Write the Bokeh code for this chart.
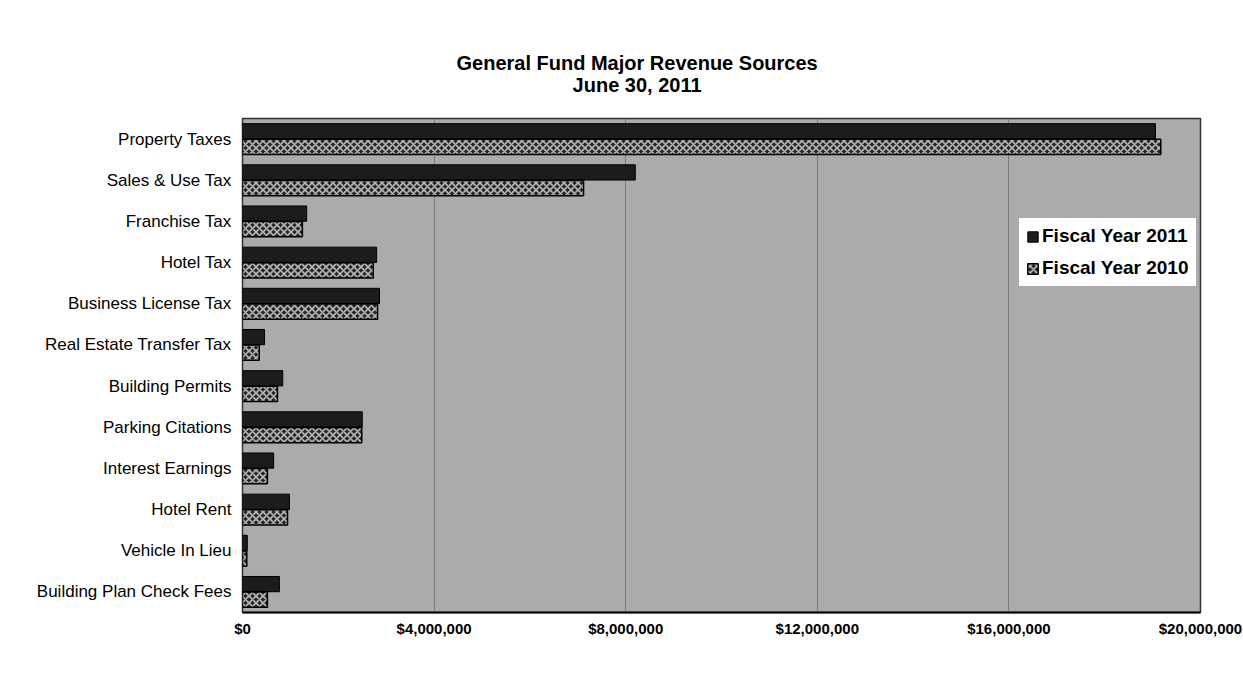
from bokeh.plotting import figure
from bokeh.layouts import column
from bokeh.models import (ColumnDataSource, FactorRange, Range1d, NumeralTickFormatter,
                          FixedTicker, Legend, LegendItem, Label)
from bokeh.transform import dodge
from bokeh.embed import file_html
from bokeh.resources import INLINE

categories = ["Property Taxes", "Sales & Use Tax", "Franchise Tax", "Hotel Tax",
              "Business License Tax", "Real Estate Transfer Tax", "Building Permits",
              "Parking Citations", "Interest Earnings", "Hotel Rent", "Vehicle In Lieu",
              "Building Plan Check Fees"]
fy2011 = [19060000, 8200000, 1340000, 2800000, 2860000, 460000, 840000,
          2500000, 650000, 980000, 100000, 770000]
fy2010 = [19170000, 7120000, 1250000, 2730000, 2820000, 350000, 730000,
          2490000, 520000, 940000, 90000, 520000]
x_ticks = [0, 4000000, 8000000, 12000000, 16000000, 20000000]
title_lines = ["General Fund Major Revenue Sources", "June 30, 2011"]

src = ColumnDataSource(dict(cat=categories, fy2011=fy2011, fy2010=fy2010))

# --- title strip ---
TW, TH = 1243, 116
tp = figure(width=TW, height=TH, x_range=Range1d(0, TW), y_range=Range1d(0, TH),
            output_backend="svg", toolbar_location=None, min_border=0,
            x_axis_location=None, y_axis_location=None)
tp.grid.visible = False
tp.outline_line_color = None
tp.background_fill_color = "white"
tp.border_fill_color = "white"
for txt, yy in zip(title_lines, [TH - 62, TH - 84]):
    tp.add_layout(Label(x=512, y=yy, text=txt, text_align="center",
                        text_baseline="middle", text_font="Liberation Sans",
                        text_font_size="20px", text_font_style="bold",
                        text_color="black"))

# --- main chart ---
p = figure(y_range=FactorRange(*reversed(categories)), x_range=Range1d(0, 20000000),
           width=1243, height=680 - TH, output_backend="svg", toolbar_location=None,
           min_border_left=242, min_border_right=43, min_border_top=2,
           min_border_bottom=68)
p.title = None
p.background_fill_color = "#ababab"
p.border_fill_color = "white"
p.outline_line_color = "#333333"
p.outline_line_width = 1.5

r1 = p.hbar(y=dodge("cat", 0.19, range=p.y_range), right="fy2011", left=0, height=0.37,
            source=src, fill_color="#1c1c1c", line_color="black", line_width=1)
r2 = p.hbar(y=dodge("cat", -0.19, range=p.y_range), right="fy2010", left=0, height=0.37,
            source=src, fill_color="#262626", line_color="black", line_width=1.5,
            hatch_pattern="x", hatch_color="#b5b5b5", hatch_scale=7, hatch_weight=1.6)

p.xaxis.ticker = FixedTicker(ticks=x_ticks)
p.xaxis.formatter = NumeralTickFormatter(format="$0,0")
p.xaxis.major_label_text_font = "Liberation Sans"
p.xaxis.major_label_text_font_style = "bold"
p.xaxis.major_label_text_font_size = "15px"
p.xaxis.major_label_text_color = "black"
p.xaxis.major_tick_line_color = None
p.xaxis.minor_tick_line_color = None
p.xaxis.axis_line_color = "black"
p.xaxis.axis_line_width = 2
p.xaxis.major_label_standoff = 1

p.yaxis.major_label_text_font = "Liberation Sans"
p.yaxis.major_label_text_font_size = "17px"
p.yaxis.major_label_text_color = "black"
p.yaxis.major_tick_line_color = None
p.yaxis.minor_tick_line_color = None
p.yaxis.axis_line_color = None
p.yaxis.major_label_standoff = 5

p.ygrid.grid_line_color = None
p.xgrid.grid_line_color = "#7a7a7a"
p.xgrid.grid_line_width = 1

legend = Legend(items=[LegendItem(label="Fiscal Year 2011", renderers=[r1]),
                       LegendItem(label="Fiscal Year 2010", renderers=[r2])],
                location=(776, 325), label_text_font="Liberation Sans",
                label_text_font_size="19px", label_text_font_style="bold",
                label_text_color="black",
                glyph_width=13, glyph_height=13, label_standoff=3, spacing=10,
                padding=7, background_fill_color="white", background_fill_alpha=1,
                border_line_color="#555555", border_line_width=1)
p.add_layout(legend)

layout = column(tp, p, spacing=0)
open("out.html", "w").write(file_html(layout, INLINE))
